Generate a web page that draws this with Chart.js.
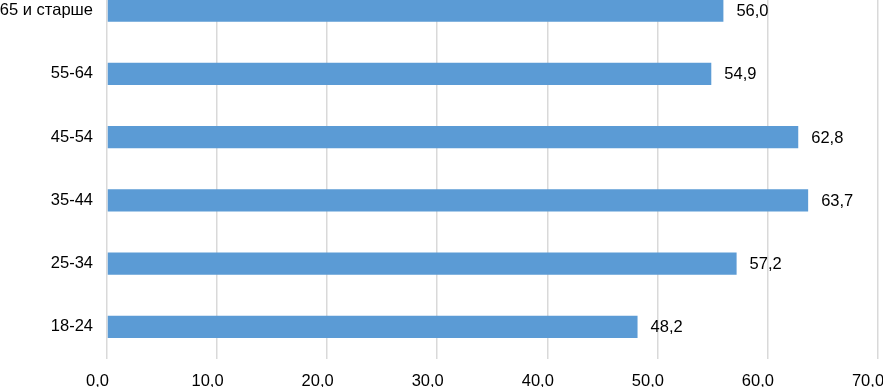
<!DOCTYPE html>
<html>
<head>
<meta charset="utf-8">
<script src="https://cdn.jsdelivr.net/npm/chart.js@4/dist/chart.umd.min.js"></script>
<style>
  html, body { margin: 0; padding: 0; background: #fff; overflow: hidden; }
  #wrap { position: relative; width: 883px; height: 408px; margin-top: -21px; }
</style>
</head>
<body>
<div id="wrap"><canvas id="c" width="883" height="408"></canvas></div>
<script>
const categories = ["65 и старше", "55-64", "45-54", "35-44", "25-34", "18-24"];
const values = [56.0, 54.9, 62.8, 63.7, 57.2, 48.2];
const xTicks = [0, 10, 20, 30, 40, 50, 60, 70];

const fmt = v => v.toFixed(1).replace('.', ',');
const FONT = '"Liberation Sans", Arial, sans-serif';

const labelPlugin = {
  id: 'valueLabels',
  afterDatasetsDraw(chart) {
    const ctx = chart.ctx;
    const meta = chart.getDatasetMeta(0);
    ctx.save();
    ctx.font = '16.5px ' + FONT;
    ctx.fillStyle = '#000000';
    ctx.textAlign = 'left';
    ctx.textBaseline = 'middle';
    meta.data.forEach((bar, i) => {
      ctx.fillText(fmt(values[i]), bar.x + 13, bar.y + 1);
    });
    ctx.restore();
  }
};

new Chart(document.getElementById('c'), {
  type: 'bar',
  data: {
    labels: categories,
    datasets: [{
      data: values,
      backgroundColor: '#5B9BD5',
      borderWidth: 0,
      categoryPercentage: 1,
      barPercentage: 0.35
    }]
  },
  options: {
    indexAxis: 'y',
    responsive: false,
    animation: false,
    layout: { padding: { left: 0, right: 5.5, top: 0, bottom: 0 } },
    plugins: { legend: { display: false }, tooltip: { enabled: false } },
    scales: {
      x: {
        min: 0, max: 70,
        afterBuildTicks(s) { s.ticks = xTicks.map(v => ({ value: v })); },
        ticks: {
          callback: v => fmt(v),
          color: '#000000',
          font: { family: FONT, size: 16.5 },
          padding: 13,
          labelOffset: -9.5,
          maxRotation: 0,
          autoSkip: false
        },
        grid: { color: '#d9d9d9', lineWidth: 1.5, drawTicks: false },
        border: { display: false },
        afterFit(s) { s.height = 28.5; s.paddingLeft = 0; s.paddingRight = 0; }
      },
      y: {
        ticks: {
          color: '#000000',
          font: { family: FONT, size: 16.5 },
          padding: 14
        },
        grid: { display: false, drawTicks: false },
        border: { display: false },
        afterFit(s) { s.width = 107; s.paddingTop = 0; s.paddingBottom = 0; }
      }
    }
  },
  plugins: [labelPlugin]
});
</script>
</body>
</html>
